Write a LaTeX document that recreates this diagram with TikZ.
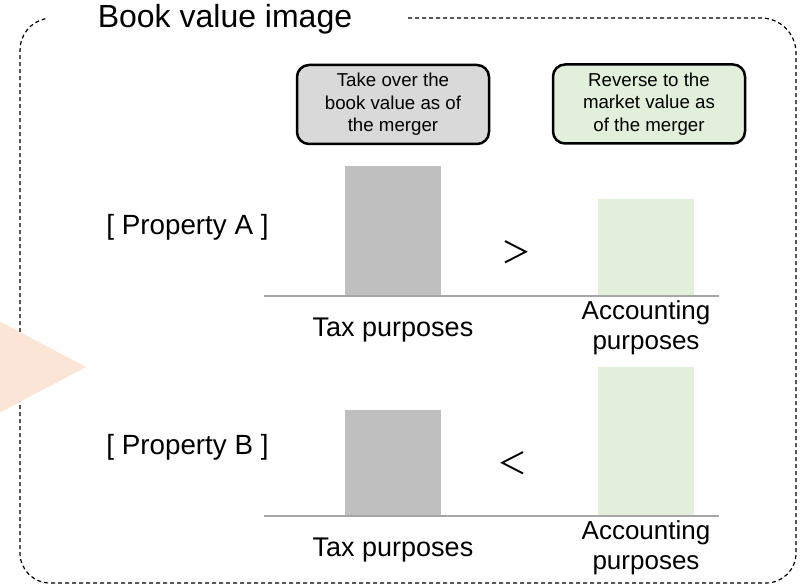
\documentclass[tikz,border=0pt]{standalone}
\usepackage{fontspec}
\setmainfont{Liberation Sans}
\newfontfamily\cjkfont{Noto Sans CJK JP}
\usepackage{tikz}
\usetikzlibrary{arrows.meta, positioning, calc}
\definecolor{BoxGray}{RGB}{217, 217, 217}
\definecolor{BarGray}{RGB}{191, 191, 191}
\definecolor{BarGreen}{RGB}{226, 239, 218}
\definecolor{AxisGray}{RGB}{166, 166, 166}
\definecolor{ArrowPeach}{RGB}{251, 229, 214}
\tikzset{every node/.style={font=\fontsize{26pt}{30pt}\selectfont, inner sep=0pt}, every path/.style={line join=round}}

\begin{document}
\begin{tikzpicture}[
    x=1pt, y=-1pt,
    frame/.style={draw=black, line width=1.2pt, dash pattern=on 4pt off 3pt},
    notebox/.style={draw=black, line width=2.5pt, rounded corners=12pt, minimum width=192pt, minimum height=79pt, align=center, font=\fontsize{18.7pt}{22.5pt}\selectfont},
    bar/.style={minimum width=96pt, anchor=south},
    axis/.style={draw=AxisGray, line width=1.5pt},
    proplabel/.style={font=\fontsize{27.8pt}{30pt}\selectfont},
    taxlabel/.style={font=\fontsize{27pt}{30pt}\selectfont},
    relation/.style={font=\cjkfont\fontsize{30pt}{30pt}\selectfont}
]
    \useasboundingbox (0,0) rectangle (802,585);

    \draw [frame] (408,18) -- (761,18) arc [start angle=270, end angle=360, radius=35]
        -- (796,553) arc [start angle=0, end angle=90, radius=30]
        -- (50,583) arc [start angle=90, end angle=180, radius=30]
        -- (20,50) arc [start angle=180, end angle=258, radius=32];

    \node [anchor=base, font=\fontsize{32pt}{36pt}\selectfont] (title) at (225,28) {Book value image};

    \node [notebox, fill=BoxGray] (keepbox) at (393,104.5) {\raisebox{-2pt}{\parbox{180pt}{\centering Take over the\\book value as of\\the merger}}};
    \node [notebox, fill=BarGreen] (revbox) at (649,104) {\raisebox{-2pt}{\parbox{180pt}{\centering Reverse to the\\market value as\\of the merger}}};

    \node [proplabel] (propA) at (187.5,227) {[ Property A ]};
    \node [bar, fill=BarGray, minimum height=130pt] (taxA) at (393,296) {};
    \node [bar, fill=BarGreen, minimum height=97pt] (accA) at (646,296) {};
    \coordinate (axisAl) at (264,296);
    \coordinate (axisAr) at (719,296);
    \draw [axis] (axisAl) -- (axisAr);
    \node [relation] (gtA) at (516,252) {＞};
    \node [taxlabel] (taxlabA) at (393,330) {Tax purposes};
    \node [align=center] (acclabA) at (646,328) {Accounting\\purposes};

    \node [proplabel] (propB) at (187.5,447) {[ Property B ]};
    \node [bar, fill=BarGray, minimum height=106pt] (taxB) at (393,516) {};
    \node [bar, fill=BarGreen, minimum height=149pt] (accB) at (646,516) {};
    \coordinate (axisBl) at (264,516);
    \coordinate (axisBr) at (719,516);
    \draw [axis] (axisBl) -- (axisBr);
    \node [relation] (ltB) at (512,463) {＜};
    \node [taxlabel] (taxlabB) at (393,550) {Tax purposes};
    \node [align=center] (acclabB) at (646,548) {Accounting\\purposes};

    \fill [ArrowPeach] (-60,290) -- (86,367) -- (-60,444) -- cycle;
\end{tikzpicture}
\end{document}
